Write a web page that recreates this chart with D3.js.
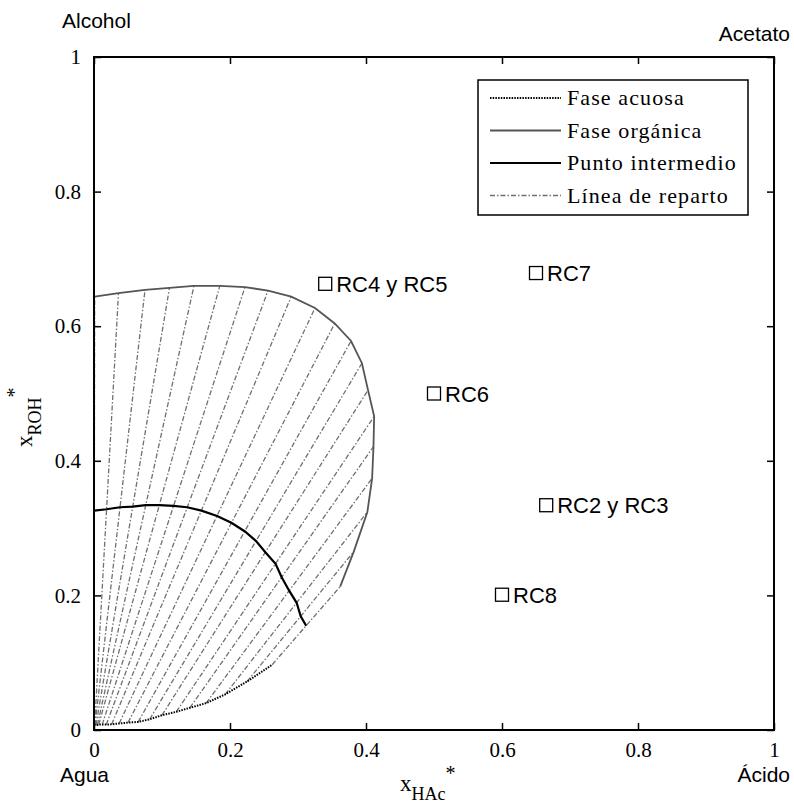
<!DOCTYPE html>
<html>
<head>
<meta charset="utf-8">
<script src="https://cdn.jsdelivr.net/npm/d3@7"></script>
<style>
  body { margin: 0; background: #fff; }
  svg { display: block; }
</style>
</head>
<body>
<svg width="794" height="803"></svg>
<script>
// organic phase (x HAc, x ROH)
const organicX = [0.001, 0.036, 0.075, 0.111, 0.147, 0.185, 0.222, 0.256, 0.290, 0.325,
                  0.354, 0.378, 0.394, 0.403, 0.412, 0.411, 0.409, 0.402, 0.382, 0.362];
const organicY = [0.644, 0.649, 0.654, 0.657, 0.660, 0.660, 0.658, 0.653, 0.644, 0.627,
                  0.604, 0.578, 0.545, 0.505, 0.466, 0.421, 0.374, 0.324, 0.265, 0.213];

// aqueous phase
const aqueousX = [0.000, 0.001, 0.0015, 0.003, 0.005, 0.007, 0.012, 0.018, 0.026, 0.037,
                  0.050, 0.065, 0.082, 0.100, 0.121, 0.141, 0.165, 0.193, 0.225, 0.262];
const aqueousY = [0.0074, 0.0074, 0.0074, 0.0074, 0.0074, 0.008, 0.008, 0.008, 0.0085, 0.0097,
                  0.011, 0.012, 0.016, 0.022, 0.027, 0.033, 0.040, 0.053, 0.072, 0.097];

// intermediate point
const midX = [0.0005, 0.0185, 0.038, 0.057, 0.076, 0.096, 0.117, 0.137, 0.158, 0.181,
              0.202, 0.222, 0.238, 0.252, 0.267, 0.276, 0.287, 0.298, 0.304, 0.312];
const midY = [0.326, 0.328, 0.331, 0.332, 0.334, 0.334, 0.333, 0.331, 0.326, 0.318,
              0.308, 0.295, 0.281, 0.264, 0.247, 0.227, 0.207, 0.189, 0.169, 0.155];

// experiments
const expNames = ['RC4 y RC5', 'RC7', 'RC6', 'RC2 y RC3', 'RC8'];
const expX = [0.34, 0.65, 0.50, 0.665, 0.60];
const expY = [0.663, 0.679, 0.50, 0.334, 0.201];

const tickValues = [0, 0.2, 0.4, 0.6, 0.8, 1];
const legendLabels = ['Fase acuosa', 'Fase orgánica', 'Punto intermedio', 'Línea de reparto'];

const serif = "'Liberation Serif', 'Times New Roman', serif";
const sans = "'Liberation Sans', Arial, sans-serif";

const svg = d3.select('svg');

const x = d3.scaleLinear().domain([0, 1]).range([94, 774]);
const y = d3.scaleLinear().domain([0, 1]).range([730, 57]);

const organic = organicX.map((d, i) => [d, organicY[i]]);
const aqueous = aqueousX.map((d, i) => [d, aqueousY[i]]);
const intermediate = midX.map((d, i) => [d, midY[i]]);

const line = d3.line().x(d => x(d[0])).y(d => y(d[1]));

const styles = {
  aqueous: { stroke: '#000', width: 2, dash: '1.5,1.2' },
  organic: { stroke: '#555', width: 1.8, dash: null },
  mid: { stroke: '#000', width: 2.2, dash: null },
  tie: { stroke: '#707070', width: 1.3, dash: '5,2,1.5,2' }
};

// tie lines
svg.append('g')
  .selectAll('line')
  .data(aqueous)
  .enter()
  .append('line')
    .attr('x1', d => x(d[0]))
    .attr('y1', d => y(d[1]))
    .attr('x2', (d, i) => x(organic[i][0]))
    .attr('y2', (d, i) => y(organic[i][1]))
    .attr('stroke', styles.tie.stroke)
    .attr('stroke-width', styles.tie.width)
    .attr('stroke-dasharray', styles.tie.dash);

svg.append('path')
  .attr('d', line(organic))
  .attr('fill', 'none')
  .attr('stroke', styles.organic.stroke)
  .attr('stroke-width', styles.organic.width);

svg.append('path')
  .attr('d', line(aqueous))
  .attr('fill', 'none')
  .attr('stroke', styles.aqueous.stroke)
  .attr('stroke-width', styles.aqueous.width)
  .attr('stroke-dasharray', styles.aqueous.dash);

svg.append('path')
  .attr('d', line(intermediate))
  .attr('fill', 'none')
  .attr('stroke', styles.mid.stroke)
  .attr('stroke-width', styles.mid.width);

// axes
const fmt = d => String(+d.toFixed(1));

svg.append('g')
  .attr('transform', `translate(0,${y(0)})`)
  .call(d3.axisBottom(x).tickValues(tickValues).tickFormat(fmt).tickSizeInner(-7).tickSizeOuter(0).tickPadding(12));
svg.append('g')
  .attr('transform', `translate(${x(0)},0)`)
  .call(d3.axisLeft(y).tickValues(tickValues).tickFormat(fmt).tickSizeInner(-7).tickSizeOuter(0).tickPadding(13));
svg.append('g')
  .attr('transform', `translate(0,${y(1)})`)
  .call(d3.axisTop(x).tickValues(tickValues).tickFormat('').tickSizeInner(-7).tickSizeOuter(0));
svg.append('g')
  .attr('transform', `translate(${x(1)},0)`)
  .call(d3.axisRight(y).tickValues(tickValues).tickFormat('').tickSizeInner(-7).tickSizeOuter(0));

svg.selectAll('.domain').remove();
svg.selectAll('.tick line').attr('stroke', '#000').attr('stroke-width', 1.5);
svg.selectAll('.tick text')
  .style('font-family', serif)
  .style('font-size', '21px')
  .attr('fill', '#000');

svg.append('rect')
  .attr('x', x(0))
  .attr('y', y(1))
  .attr('width', x(1) - x(0))
  .attr('height', y(0) - y(1))
  .attr('fill', 'none')
  .attr('stroke', '#000')
  .attr('stroke-width', 2);

// experiment markers
const exp = svg.append('g')
  .selectAll('g')
  .data(expNames)
  .enter()
  .append('g')
    .attr('transform', (d, i) => `translate(${x(expX[i])},${y(expY[i])})`);

exp.append('rect')
  .attr('x', -6.5).attr('y', -6.5)
  .attr('width', 13).attr('height', 13)
  .attr('fill', 'none')
  .attr('stroke', '#000')
  .attr('stroke-width', 1.3);

exp.append('text')
  .attr('x', 11)
  .attr('y', 8)
  .style('font-family', sans)
  .style('font-size', '22px')
  .text(d => d);

// corner labels
const corners = [
  { t: 'Alcohol', x: 62, y: 28, a: 'start' },
  { t: 'Acetato', x: 790, y: 41, a: 'end' },
  { t: 'Agua', x: 60, y: 782, a: 'start' },
  { t: 'Ácido', x: 790, y: 782, a: 'end' }
];
svg.append('g')
  .selectAll('text')
  .data(corners)
  .enter()
  .append('text')
    .attr('x', d => d.x)
    .attr('y', d => d.y)
    .attr('text-anchor', d => d.a)
    .style('font-family', sans)
    .style('font-size', '21px')
    .text(d => d.t);

// axis titles
const xt = svg.append('text')
  .attr('x', 400)
  .attr('y', 791)
  .style('font-family', serif)
  .style('font-size', '23px');
xt.append('tspan').text('x');
xt.append('tspan').style('font-size', '18px').attr('dy', 9).text('HAc');
xt.append('tspan').style('font-size', '20px').attr('dy', -20).text('*');

const yt = svg.append('text')
  .attr('transform', 'translate(32,447) rotate(-90)')
  .style('font-family', serif)
  .style('font-size', '23px');
yt.append('tspan').text('x');
yt.append('tspan').style('font-size', '18px').attr('dy', 9).text('ROH');
yt.append('tspan').style('font-size', '20px').attr('dy', -20).text('*');

// legend
const legend = svg.append('g');
legend.append('rect')
  .attr('x', 478).attr('y', 80)
  .attr('width', 270).attr('height', 135)
  .attr('fill', '#fff')
  .attr('stroke', '#000')
  .attr('stroke-width', 1.5);

const legendStyles = [styles.aqueous, styles.organic, styles.mid, styles.tie];
const rows = legend.selectAll('g.row')
  .data(legendLabels)
  .enter()
  .append('g')
    .attr('class', 'row')
    .attr('transform', (d, i) => `translate(0,${98 + i * 32.5})`);

rows.append('line')
  .attr('x1', 490).attr('x2', 561)
  .attr('stroke', (d, i) => legendStyles[i].stroke)
  .attr('stroke-width', (d, i) => Math.min(legendStyles[i].width, 1.8))
  .attr('stroke-dasharray', (d, i) => legendStyles[i].dash);

rows.append('text')
  .attr('x', 567)
  .attr('y', 7)
  .style('font-family', serif)
  .style('font-size', '22px')
  .style('letter-spacing', '1.1px')
  .text(d => d);
</script>
</body>
</html>
